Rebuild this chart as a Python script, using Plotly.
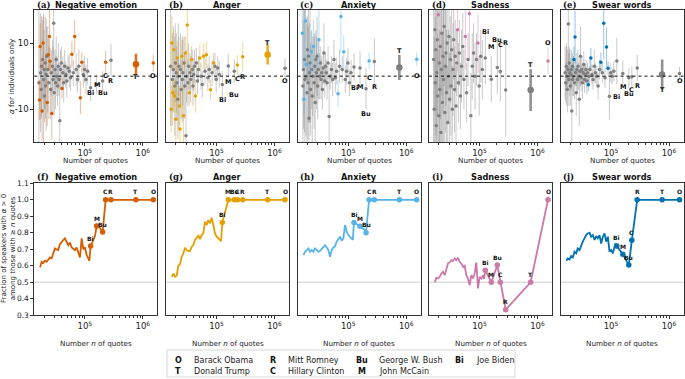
import math
import plotly.graph_objects as go

W, H = 685, 379

categories = ["Negative emotion", "Anger", "Anxiety", "Sadness", "Swear words"]
top_letters = ["(a)", "(b)", "(c)", "(d)", "(e)"]
bottom_letters = ["(f)", "(g)", "(h)", "(i)", "(j)"]
colors = ["#D55E00", "#E69F00", "#56B4E9", "#CC79A7", "#0072B2"]
GRAY = "#7f7f7f"

# number of quotes per (unnamed) speaker
speaker_quotes = [16200, 16600, 17000, 17300, 17700, 18000, 18400, 18800, 19100, 19500,
                  19900, 20300, 20700, 21100, 21600, 22000, 22500, 23000, 23500, 24000,
                  24600, 25200, 25800, 26400, 27000, 27700, 28400, 29100, 29800, 30600,
                  31400, 32200, 33100, 34000, 35000, 36000, 37100, 38200, 39400, 40600,
                  41900, 43300, 45000, 47000, 49000, 51500, 54000, 57000, 60000, 63500,
                  67000, 71000, 75000, 79000, 84000, 89000, 94000, 99000, 105000, 112000]

named_codes = ["Bi", "M", "Bu", "C", "R", "T", "O"]
named_quotes = [126000, 160000, 203000, 229000, 283000, 762000, 1517000]

# alpha estimates and CI half-widths (top row)
negemo_alpha = [-2, -7.2, 9, 1, -4, 3, -10.5, 5, 10, -1,
                2, -6, 4, -3, 0.5, 6, -8, 2, 6.5, -2,
                12, 4.5, -4, 1, -11.3, 3, -1, 16, -5, 2,
                -2, 5, 0, -3, 3, -1, -13.5, 2, 4, -3.7,
                1, -2, 3, 0.5, -1.5, 2.5, 1.5, -0.5, 6.6, 1,
                12, 2, -1, 3, -6.5, 4.2, 0.5, 2, -1, 1.5]
negemo_ci = [22, 6, 7, 18, 9, 15, 9, 12, 8, 20,
             12, 8, 14, 10, 17, 9, 7, 13, 5, 11,
             10, 4, 9, 7, 8, 8, 10, 17, 7, 6,
             8, 7, 6, 6, 7, 5, 14, 6, 5, 3,
             5, 6, 5, 4, 5, 4, 5, 4, 4, 4,
             5, 5, 4, 5, 5, 3, 4, 4, 4.5, 4]
anger_alpha = [3, -10, 10, -1, -5, 2, 8, -6, -3, 4,
               -13, 1, -2, 5.5, -7, 0, 3, -9, -16, 2,
               -4, 6, -1, 1, -12, 4, -3, 7, -18, 0,
               15.5, -2, 3, -5, 1, -1, 5, 2, -3, 0.5,
               3, -6, 4, -1.5, 2, 5.5, 0, -2.5, 6, 1.5,
               6.5, -0.5, 2, -4.1, 1, 4, 3, -1, 2.5, 0.5]
anger_ci = [18, 7, 8, 14, 4, 13, 6, 5, 15, 12,
            10, 12, 11, 5, 12, 16, 9, 6, 12, 11,
            9, 5, 13, 10, 9, 8, 10, 5, 20, 8,
            12, 7, 7, 4, 6, 7, 4, 6, 6, 5,
            5, 5, 4.5, 4, 4, 4, 4, 4, 4, 4,
            4, 4, 4, 3, 4, 3, 4, 4, 3.5, 4]
anxiety_alpha = [13, -3, 2, -7, 5, -1, 16.7, 0, 3.5, -5,
                 8, -2, 6, -12.7, 1, 4, -4, 7.4, 2, -6,
                 0, 9, -2, 3, -8, 5, 1, 6, -3, 2,
                 11, 0, 4, -1, 1, -4, 2.5, 7, -1.5, 3,
                 1, -2, 4, -12.2, 0, 2, -1, 5, -0.5, 1.5,
                 -5.3, 3, 18, 2, 7.4, -1, 1.5, 4, -2, 1]
anxiety_ci = [11, 20, 18, 5, 22, 25, 14, 18, 3, 21,
              10, 17, 20, 16, 15, 18, 14, 6, 12, 15,
              12, 8, 14, 10, 13, 9, 11, 12, 10, 9,
              9, 7, 5, 6, 5, 6, 5, 9, 5, 4,
              4, 5, 5, 13, 4, 4, 5, 6, 4.5, 4,
              4, 5, 11, 4, 5, 4, 4, 4.5, 4, 4]
sadness_alpha = [5, -10, 14, -2, 8, -15, 1, 11, -6, 18.6,
                 -12, 4, -4, 9, -17, 2, 13, -8, 6, -1,
                 15, -11, 3, 7, -5, 10, -14, 0, 12, -7,
                 5, -3, 8, -10, 2, 11, -4, 6, -9, 4,
                 14, -2, 7, -6, 3, 9, -1, 12, -5, 5,
                 18.9, -12, 3, 7, 0, 5, 10, -3, 6, 2]
sadness_ci = [25, 22, 24, 20, 26, 22, 21, 23, 19, 16,
              20, 24, 18, 22, 20, 25, 19, 21, 17, 23,
              18, 17, 20, 16, 19, 15, 17, 14, 16, 14,
              13, 15, 12, 13, 14, 12, 13, 11, 12, 10,
              12.5, 12, 10, 10, 11, 10, 9, 10, 9, 8,
              14, 13, 10, 9, 10, 8, 9, 9, 8, 9]
swear_alpha = [1, -2, 3, 0, -4, 2, 15.8, -1, 4, 1,
               -3, 0.5, 2, -10.5, 3, -1, 0, 5, -2, 11.8,
               1, -5, 2, -1, 3, 0, -7, 1.5, 6, -0.5,
               2, -2, 1, 3.5, -1, 0.5, 2, -1.5, 1, -2.6,
               0, 2, 5.5, 0.5, -1, 3, 1, 0, -3, 2,
               4.2, 1, 16, -0.5, 8.8, 2.4, -6.1, 1, 0, 1.5]
swear_ci = [8, 6, 7, 9, 7, 6, 18, 8, 5, 7,
            6, 5, 6, 11, 4, 5, 6, 4, 5, 8,
            4, 7, 5, 4, 5, 4, 8, 4, 9, 4,
            4, 5, 3, 4, 4, 3, 3, 4, 3, 2,
            3, 4, 3, 3, 3, 5, 3, 3, 4, 3,
            3, 3, 11, 3, 6, 2, 7, 3, 2.5, 3]

# named speakers (Bi, M, Bu, C, R, T, O)
negemo_named_alpha = [-3.5, -2.5, -1.5, 4.2, 4.8, 3.6, 4.0]
negemo_named_ci = [4, 3, 3, 3.5, 5, 3.2, 2.5]
anger_named_alpha = [-2.5, 3.1, 1.5, 3.4, 5.9, 6.5, 2.4]
anger_named_ci = [4, 3.5, 3.5, 3, 4.3, 3, 3]
anxiety_named_alpha = [2.8, 2.5, -3.8, 4.6, 4.4, 2.6, 5.1]
anxiety_named_ci = [4, 5, 6.3, 2.5, 7, 3.8, 2]
sadness_named_alpha = [5.5, -0.9, 2.6, 1.4, -4.2, -4.2, 4.6]
sadness_named_ci = [8, 7, 8, 9, 14, 6.3, 3.8]
swear_named_alpha = [4.6, 0.8, -0.5, -0.2, 2.5, 0.5, 0.8]
swear_named_ci = [7, 4, 3, 3, 4, 4.5, 2]

# label placement (y, in alpha units) for named speakers, top row
negemo_label_y = [-5.2, -2.8, -5.2, 0, -1.5, -0.3, 0]
anger_label_y = [-7.2, -1.9, -5.6, -0.9, -0.4, 10.1, -1.4]
anxiety_label_y = [-3.6, -3.2, -11.3, -0.5, -3.3, 7.7, 0]
sadness_label_y = [13.2, 8.7, 10.8, 9.4, 10.1, 3.4, 10.1]
swear_label_y = [-6.3, -3.3, -5.4, -4.1, -2.9, -4.2, -1.4]

# bottom row: fraction of speakers with alpha > 0 among those with >= n quotes
line_quotes = [17000, 18000, 19300, 20600, 22000, 23500, 25100, 26800, 28700, 30600,
               32700, 34900, 37300, 39900, 42600, 45500, 48600, 52000, 55600, 59300,
               63400, 67800, 72400, 77300, 82600, 88300, 94300, 100800, 107700, 115000,
               120000, 126000, 140000, 150000, 160000, 178000, 190000, 203000, 229000, 283000,
               762000, 1517000]
negemo_frac = [0.590, 0.624, 0.618, 0.630, 0.624, 0.638, 0.650, 0.644, 0.679, 0.705,
               0.699, 0.695, 0.731, 0.746, 0.756, 0.766, 0.746, 0.725, 0.740, 0.711,
               0.703, 0.695, 0.711, 0.679, 0.650, 0.766, 0.699, 0.711, 0.665, 0.644,
               0.630, 0.719, 0.752, 0.780, 0.841, 0.833, 0.820, 0.804, 1.0, 1.0,
               1.0, 1.0]
anger_frac = [0.533, 0.553, 0.533, 0.540, 0.600, 0.610, 0.654, 0.674, 0.709, 0.695,
              0.689, 0.689, 0.715, 0.725, 0.756, 0.770, 0.782, 0.762, 0.786, 0.796,
              0.867, 0.847, 0.877, 0.857, 0.891, 0.847, 0.796, 0.776, 0.766, 0.756,
              0.750, 0.863, None, None, 1.0, None, None, 1.0, 1.0, 1.0,
              1.0, 1.0]
anxiety_frac = [0.665, 0.685, 0.695, 0.705, 0.685, 0.695, 0.685, 0.705, 0.695, 0.685,
                0.690, 0.700, 0.715, 0.725, 0.711, 0.695, 0.655, 0.695, 0.711, 0.719,
                0.746, 0.766, 0.776, 0.752, 0.766, 0.847, 0.807, 0.786, 0.776, 0.766,
                0.756, 0.863, 0.850, 0.845, 0.840, 0.830, 0.820, 0.800, 1.0, 1.0,
                1.0, 1.0]
sadness_frac = [0.500, 0.527, 0.523, 0.533, 0.553, 0.563, 0.543, 0.573, 0.614, 0.620,
                0.634, 0.628, 0.644, 0.634, 0.648, 0.624, 0.614, 0.594, 0.600, 0.543,
                0.523, 0.482, 0.543, 0.523, 0.553, 0.620, 0.462, 0.533, 0.523, 0.543,
                0.520, 0.573, None, None, 0.500, None, None, 0.604, 0.500, 0.333,
                0.500, 1.0]
swear_frac = [0.630, 0.644, 0.638, 0.659, 0.650, 0.685, 0.675, 0.705, 0.695, 0.725,
              0.746, 0.766, 0.786, 0.796, 0.800, 0.776, 0.786, 0.756, 0.780, 0.766,
              0.786, 0.735, 0.776, 0.796, 0.746, 0.776, 0.685, 0.695, 0.675, 0.715,
              0.735, 0.720, 0.700, 0.680, 0.670, 0.640, 0.625, 0.604, 0.754, 1.0,
              1.0, 1.0]

legend_codes = ["O", "T", "R", "C", "Bu", "M", "Bi"]
legend_names = ["Barack Obama", "Donald Trump", "Mitt Romney", "Hillary Clinton",
                "George W. Bush", "John McCain", "Joe Biden"]

top_alpha = [negemo_alpha, anger_alpha, anxiety_alpha, sadness_alpha, swear_alpha]
top_ci = [negemo_ci, anger_ci, anxiety_ci, sadness_ci, swear_ci]
top_named_alpha = [negemo_named_alpha, anger_named_alpha, anxiety_named_alpha,
                   sadness_named_alpha, swear_named_alpha]
top_named_ci = [negemo_named_ci, anger_named_ci, anxiety_named_ci,
                sadness_named_ci, swear_named_ci]
top_label_y = [negemo_label_y, anger_label_y, anxiety_label_y, sadness_label_y, swear_label_y]
fractions = [negemo_frac, anger_frac, anxiety_frac, sadness_frac, swear_frac]

FONT = "DejaVu Sans"


def rgba(hex_color, a):
    h = hex_color.lstrip("#")
    return f"rgba({int(h[0:2], 16)},{int(h[2:4], 16)},{int(h[4:6], 16)},{a})"


def px_x(px):
    return px / W


def px_y(py):
    return 1 - py / H


def axname(prefix, n):
    return prefix if n == 1 else f"{prefix}{n}"


fig = go.Figure()

# ---- top row: alpha with error bars
for i in range(5):
    n = i + 1
    qs = speaker_quotes + named_quotes
    al = top_alpha[i] + top_named_alpha[i]
    ci = top_ci[i] + top_named_ci[i]
    big = [False] * len(speaker_quotes) + [c == "T" for c in named_codes]
    sig = [abs(a) > c for a, c in zip(al, ci)]
    for want_sig in (False, True):
        for want_big in (False, True):
            idx = [k for k in range(len(qs)) if sig[k] == want_sig and big[k] == want_big]
            if not idx:
                continue
            col = colors[i] if want_sig else GRAY
            fig.add_trace(go.Scatter(
                x=[qs[k] for k in idx], y=[al[k] for k in idx], mode="markers",
                marker=dict(color=col, size=6.5 if want_big else 3.5, line=dict(width=0)),
                error_y=dict(type="data", array=[ci[k] for k in idx],
                             color=rgba(col, 0.85 if want_big else 0.42),
                             thickness=2.6 if want_big else 1, width=0),
                xaxis=axname("x", n), yaxis=axname("y", n),
                showlegend=False, hoverinfo="skip"))

# ---- bottom row: fraction lines
for i in range(5):
    n = i + 6
    fig.add_trace(go.Scatter(
        x=line_quotes, y=fractions[i], mode="lines", connectgaps=True,
        line=dict(color=colors[i], width=1.8),
        xaxis=axname("x", n), yaxis=axname("y", n), showlegend=False, hoverinfo="skip"))
    mk = [fractions[i][line_quotes.index(q)] for q in named_quotes]
    fig.add_trace(go.Scatter(
        x=named_quotes, y=mk, mode="markers",
        marker=dict(color=colors[i], size=5.5, line=dict(width=0)),
        xaxis=axname("x", n), yaxis=axname("y", n), showlegend=False, hoverinfo="skip"))

lefts = [34.3, 166, 297.7, 429, 560.5]
PW = 123
top_dom = [px_y(142.3), px_y(10)]
bot_dom = [px_y(315.2), px_y(183.3)]
XR = [4.13, 6.25]
minor_vals = [k * 10 ** e for e in (4, 5) for k in range(2, 10)]

layout_axes = {}
annotations = []
shapes = []
for n in range(1, 11):
    col = (n - 1) % 5
    top = n <= 5
    dom_x = [px_x(lefts[col]), px_x(lefts[col] + PW)]
    xa = dict(type="log", range=XR, domain=dom_x, anchor=axname("y", n), automargin=False,
              tickvals=[1e5, 1e6], ticktext=["10<sup>5</sup>", "10<sup>6</sup>"],
              ticks="outside", ticklen=3, tickwidth=0.8, tickcolor="#333",
              minor=dict(tickvals=minor_vals, ticks="outside", ticklen=1.8,
                         tickwidth=0.6, tickcolor="#333"),
              showgrid=False, zeroline=False, showline=True, mirror=True,
              linecolor="#333", linewidth=0.8,
              tickfont=dict(family=FONT, size=8.5, color="#222"))
    if top:
        ya = dict(range=[-20, 20], domain=top_dom, anchor=axname("x", n),
                  tickvals=[-10, 10], ticktext=["-10", "10"])
    else:
        ya = dict(range=[0.3, 1.1], domain=bot_dom, anchor=axname("x", n),
                  tickvals=[0.3, 0.4, 0.5, 0.6, 0.7, 0.8, 0.9, 1.0, 1.1],
                  ticktext=["0.3", "0.4", "0.5", "0.6", "0.7", "0.8", "0.9", "1.0", "1.1"])
    first = col == 0
    ya.update(showgrid=False, zeroline=False, showline=True, mirror=True, automargin=False,
              linecolor="#333", linewidth=0.8,
              showticklabels=first, ticks="outside" if first else "",
              ticklen=3, tickwidth=0.8, tickcolor="#333",
              tickfont=dict(family=FONT, size=8.5 if top else 7.5, color="#222"))
    layout_axes[axname("xaxis", n)] = xa
    layout_axes[axname("yaxis", n)] = ya

    # reference lines
    if top:
        shapes.append(dict(type="line", xref=f"{axname('x', n)} domain", x0=0, x1=1,
                           yref=axname("y", n), y0=0, y1=0,
                           line=dict(color="#111", width=1, dash="dot"), layer="above"))
    else:
        shapes.append(dict(type="line", xref=f"{axname('x', n)} domain", x0=0, x1=1,
                           yref=axname("y", n), y0=0.5, y1=0.5,
                           line=dict(color="#c8c8c8", width=0.9), layer="below"))

    # titles
    ty = 4.5 if top else 177
    letter = top_letters[col] if top else bottom_letters[col]
    annotations.append(dict(text=f"<b>{letter}</b>", xref="paper", yref="paper",
                            x=px_x(lefts[col] + 0.5), y=px_y(ty), xanchor="left", yanchor="middle",
                            showarrow=False, font=dict(family="DejaVu Serif", size=8.5, color="#111")))
    annotations.append(dict(text=f"<b>{categories[col]}</b>", xref="paper", yref="paper",
                            x=px_x(lefts[col] + PW / 2), y=px_y(ty), xanchor="center", yanchor="middle",
                            showarrow=False, font=dict(family=FONT, size=8.2, color="#111")))
    # x titles
    xt = "Number of quotes" if top else "Number <i>n</i> of quotes"
    annotations.append(dict(text=xt, xref="paper", yref="paper",
                            x=px_x(lefts[col] + PW / 2), y=px_y(160.5 if top else 343),
                            xanchor="center", yanchor="middle", showarrow=False,
                            font=dict(family=FONT, size=7.2, color="#222")))

# speaker labels, top row
for i in range(5):
    n = i + 1
    for code, q, ly in zip(named_codes, named_quotes, top_label_y[i]):
        annotations.append(dict(text=f"<b>{code}</b>", xref=axname("x", n), yref=axname("y", n),
                                x=math.log10(q), y=ly, showarrow=False, xanchor="center",
                                yanchor="middle",
                                font=dict(family=FONT, size=6.5, color="#111")))
# speaker labels, bottom row
for i in range(5):
    n = i + 6
    for code, q in zip(named_codes, named_quotes):
        v = fractions[i][line_quotes.index(q)]
        annotations.append(dict(text=f"<b>{code}</b>", xref=axname("x", n), yref=axname("y", n),
                                x=math.log10(q), y=v, yshift=8, showarrow=False,
                                xanchor="center", yanchor="middle",
                                font=dict(family=FONT, size=6, color="#111")))

# y-axis titles
annotations.append(dict(text="<i>α</i> for individuals only", xref="paper", yref="paper",
                        x=px_x(12), y=px_y(76), textangle=-90, showarrow=False,
                        xanchor="center", yanchor="middle",
                        font=dict(family=FONT, size=7.2, color="#222")))
annotations.append(dict(text="Fraction of speakers with <i>α</i> > 0<br>among those with ≥ <i>n</i> quotes",
                        xref="paper", yref="paper", x=px_x(8), y=px_y(249), textangle=-90,
                        showarrow=False, xanchor="center", yanchor="middle",
                        font=dict(family=FONT, size=7, color="#222")))

# legend box
shapes.append(dict(type="rect", xref="paper", yref="paper",
                   x0=px_x(167), x1=px_x(515), y0=px_y(377), y1=px_y(350),
                   line=dict(color="#cccccc", width=0.8), fillcolor="white", layer="below"))
code_x = [178, 273, 362, 459]
name_x = [192, 286, 377, 474]
row_y = [360.7, 371.7]
for k, (c, nm) in enumerate(zip(legend_codes, legend_names)):
    colk, rowk = k // 2, k % 2
    annotations.append(dict(text=f"<b>{c}</b>", xref="paper", yref="paper",
                            x=px_x(code_x[colk]), y=px_y(row_y[rowk]), xanchor="center",
                            yanchor="middle", showarrow=False,
                            font=dict(family=FONT, size=8, color="#111")))
    annotations.append(dict(text=nm, xref="paper", yref="paper",
                            x=px_x(name_x[colk]), y=px_y(row_y[rowk]), xanchor="left",
                            yanchor="middle", showarrow=False,
                            font=dict(family=FONT, size=8, color="#222")))

fig.update_layout(width=W, height=H, margin=dict(l=0, r=0, t=0, b=0, autoexpand=False),
                  paper_bgcolor="white", plot_bgcolor="white", template="none",
                  showlegend=False, annotations=annotations, shapes=shapes,
                  font=dict(family=FONT), **layout_axes)

fig.write_html("out.html", config={"displayModeBar": False},
               post_script="document.body.style.margin='0px';document.body.style.overflow='hidden';")
